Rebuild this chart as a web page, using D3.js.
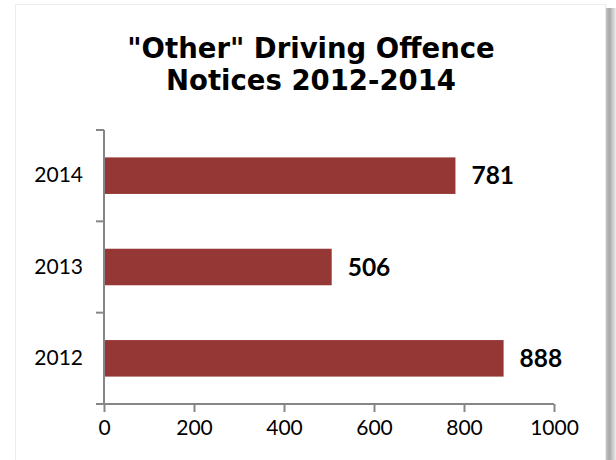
<!DOCTYPE html>
<html>
<head>
<meta charset="utf-8">
<script src="https://cdn.jsdelivr.net/npm/d3@7"></script>
<style>
  html, body { margin: 0; padding: 0; background: #ffffff; }
  svg { display: block; }
</style>
</head>
<body>
<svg id="chart" width="616" height="460"></svg>
<script>
// Chart data
const titleLines = ['"Other" Driving Offence', 'Notices 2012-2014'];
const years = ["2014", "2013", "2012"];
const notices = [781, 506, 888];
const xTicks = [0, 200, 400, 600, 800, 1000];

const svg = d3.select("#chart");
const W = 616, H = 460;

// Chart frame with a soft shadow on its right side
const defs = svg.append("defs");
const grad = defs.append("linearGradient").attr("id", "shadowGrad")
  .attr("x1", "0%").attr("x2", "100%").attr("y1", "0%").attr("y2", "0%");
grad.append("stop").attr("offset", "0%").attr("stop-color", "#c4c4c4");
grad.append("stop").attr("offset", "35%").attr("stop-color", "#a8a8a8");
grad.append("stop").attr("offset", "100%").attr("stop-color", "#ececec");

svg.append("rect").attr("x", 606).attr("y", 8).attr("width", 10).attr("height", H - 8)
  .attr("fill", "url(#shadowGrad)");
svg.append("rect").attr("x", 15.5).attr("y", 4.5).attr("width", 590).attr("height", H)
  .attr("fill", "#ffffff").attr("stroke", "#ececec").attr("stroke-width", 1);

// Title
svg.append("text")
  .attr("x", 311).attr("y", 58)
  .attr("text-anchor", "middle")
  .attr("font-family", "'DejaVu Sans', Verdana, sans-serif")
  .attr("font-weight", "bold").attr("font-size", 27.5)
  .attr("fill", "#000")
  .selectAll("tspan").data(titleLines).join("tspan")
  .attr("x", 311).attr("dy", (d, i) => i === 0 ? 0 : 32)
  .text(d => d);

// Scales
const x = d3.scaleLinear().domain([0, 1000]).range([104, 554]);
const y = d3.scaleBand().domain(years).range([130, 404])
  .paddingInner(0.6).paddingOuter(0.3);

const axisColor = "#868686";
const labelFont = "Lato, 'Open Sans', sans-serif";

// Bars
svg.append("g").selectAll("rect").data(years).join("rect")
  .attr("x", x(0))
  .attr("y", d => y(d))
  .attr("width", (d, i) => x(notices[i]) - x(0))
  .attr("height", y.bandwidth())
  .attr("fill", "#953735");

// Value labels
svg.append("g").selectAll("text").data(years).join("text")
  .attr("x", (d, i) => x(notices[i]) + 16)
  .attr("y", d => y(d) + y.bandwidth() / 2)
  .attr("dy", "0.36em")
  .attr("font-family", labelFont)
  .attr("font-weight", "bold").attr("font-size", 24.5)
  .attr("fill", "#000")
  .text((d, i) => notices[i]);

// X axis
const xAxis = svg.append("g")
  .attr("transform", `translate(0,${y.range()[1]})`)
  .call(d3.axisBottom(x).tickValues(xTicks).tickSize(8).tickPadding(8).tickFormat(d3.format("d")));
xAxis.select(".domain").attr("stroke", axisColor).attr("stroke-width", 2)
  .attr("d", `M${x(0) - 8},0H${x(1000)}`);
xAxis.selectAll(".tick line").attr("stroke", axisColor).attr("stroke-width", 2);
xAxis.selectAll(".tick text").attr("font-family", labelFont).attr("font-size", 21).attr("fill", "#000");

// Y axis: category labels, with tick marks between categories
const yAxis = svg.append("g")
  .attr("transform", `translate(${x(0)},0)`)
  .call(d3.axisLeft(y).tickSize(0).tickPadding(21));
yAxis.select(".domain").attr("stroke", axisColor).attr("stroke-width", 2)
  .attr("d", `M0,${y.range()[0]}V${y.range()[1]}`);
yAxis.selectAll(".tick text").attr("font-family", labelFont).attr("font-size", 21).attr("fill", "#000");

const boundaries = d3.range(years.length + 1).map(i => y.range()[0] + i * y.step());
yAxis.append("g").selectAll("line").data(boundaries).join("line")
  .attr("x1", -8).attr("x2", 0)
  .attr("y1", d => d).attr("y2", d => d)
  .attr("stroke", axisColor).attr("stroke-width", 2);
</script>
</body>
</html>
